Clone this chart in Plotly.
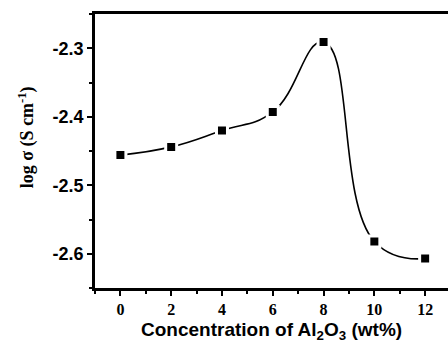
import plotly.graph_objects as go

conc = [0, 2, 4, 6, 8, 10, 12]
log_sigma = [-2.456, -2.444, -2.420, -2.393, -2.291, -2.582, -2.607]
x_ticks = [0, 2, 4, 6, 8, 10, 12]
y_ticks = [-2.3, -2.4, -2.5, -2.6]
y_labels = ["-2.3", "-2.4", "-2.5", "-2.6"]

fig = go.Figure()
fig.add_trace(go.Scatter(
    x=conc, y=log_sigma, mode="lines+markers",
    line=dict(color="black", width=1.6, shape="spline", smoothing=1.3),
    marker=dict(symbol="square", size=11, color="black",
                line=dict(color="white", width=3)),
    showlegend=False,
))

fig.update_layout(
    width=448, height=340,
    margin=dict(l=95, r=0, t=14, b=52, autoexpand=False),
    paper_bgcolor="white", plot_bgcolor="white",
    xaxis=dict(
        range=[-1, 12.9], tickvals=x_ticks,
        ticktext=[str(v) for v in x_ticks],
        showline=True, linecolor="black", linewidth=2.6, mirror=True,
        ticks="outside", ticklen=5, tickwidth=2, tickcolor="black",
        minor=dict(dtick=1, ticks="outside", ticklen=3, tickwidth=2, tickcolor="black"),
        showgrid=False, zeroline=False, automargin=False,
        tickfont=dict(family="Times New Roman, Liberation Serif", size=16,
                      color="black", weight=700),
    ),
    yaxis=dict(
        range=[-2.65, -2.25], tickvals=y_ticks,
        ticktext=y_labels,
        showline=True, linecolor="black", linewidth=2.6, mirror=False,
        ticks="outside", ticklen=5, tickwidth=2, tickcolor="black",
        minor=dict(dtick=0.05, ticks="outside", ticklen=3, tickwidth=2, tickcolor="black"),
        showgrid=False, zeroline=False, automargin=False,
        tickfont=dict(family="Arial, Liberation Sans", size=18,
                      color="black", weight=700),
    ),
    annotations=[
        dict(
            text="log σ (S cm<sup>-1</sup>)", textangle=-90,
            xref="paper", yref="paper", x=-0.193, y=0.55,
            xanchor="center", yanchor="middle", showarrow=False,
            font=dict(family="Times New Roman, Liberation Serif", size=18,
                      color="black", weight=700),
        ),
        dict(
            text="Concentration of Al<sub>2</sub>O<sub>3</sub> (wt%)",
            xref="paper", yref="paper", x=0.5, y=-0.157,
            xanchor="center", yanchor="middle", showarrow=False,
            font=dict(family="Arial, Liberation Sans", size=19,
                      color="black", weight=700),
        ),
    ],
)

fig.write_html("out.html", config={"displayModeBar": False},
               post_script="document.body.style.margin='0';")
